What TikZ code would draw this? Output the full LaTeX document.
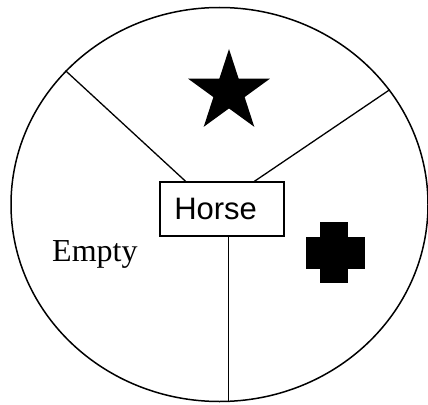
\documentclass[tikz,border=0pt]{standalone}
\usepackage{fontspec}
\setmainfont{Liberation Serif}
\newfontfamily\arialfont{Liberation Sans}
\usepackage{tikz}
\usetikzlibrary{shapes.geometric,positioning,calc}
\tikzset{wheel/.style = {draw, ellipse, line width = 1.5pt, inner sep = 0pt},
         namebox/.style = {draw, rectangle, line width = 1.2pt, inner ysep = 0pt, inner xsep = 14.3pt,
                           text width = 95.4pt, align = left, minimum height = 54pt,
                           font = \arialfont\fontsize{31}{36}\selectfont},
         blob/.style = {fill = black, draw = none, inner sep = 0pt},
         spoke/.style = {line width = 1.3pt},
}

\begin{document}
\begin{tikzpicture}[x = 1pt, y = -1pt]
  \useasboundingbox (0,0) rectangle (428,404);

  \node[wheel, minimum width = 417pt, minimum height = 394pt] (wheel) at (219.5,204.5) {};
  \node[namebox] (horse) at (222,209) {Horse};
  \node[anchor = base west, inner sep = 0pt, font = \fontsize{32}{38}\selectfont] (empty) at (52,261.7) {Empty};

  \node[blob, star, star points = 5, star point ratio = 2.618, minimum size = 86pt] (star) at (229,92) {};
  \node[blob, minimum width = 28.3pt, minimum height = 61.3pt] (plusv) at (334.2,252.4) {};
  \node[blob, minimum width = 59.3pt, minimum height = 32pt] (plush) at (335.4,253.3) {};

  \coordinate (hubl) at ($(horse.north west)!0.21!(horse.north east)$);
  \coordinate (hubr) at ($(horse.north west)!0.758!(horse.north east)$);
  \coordinate (hubb) at ($(horse.south west)!0.55!(horse.south east)$);

  \draw[spoke] (hubl) -- (wheel.139.6);
  \draw[spoke] (hubr) -- (wheel.34.7);
  \draw[spoke] (hubb) -- (hubb |- wheel.south);

\end{tikzpicture}
\end{document}
